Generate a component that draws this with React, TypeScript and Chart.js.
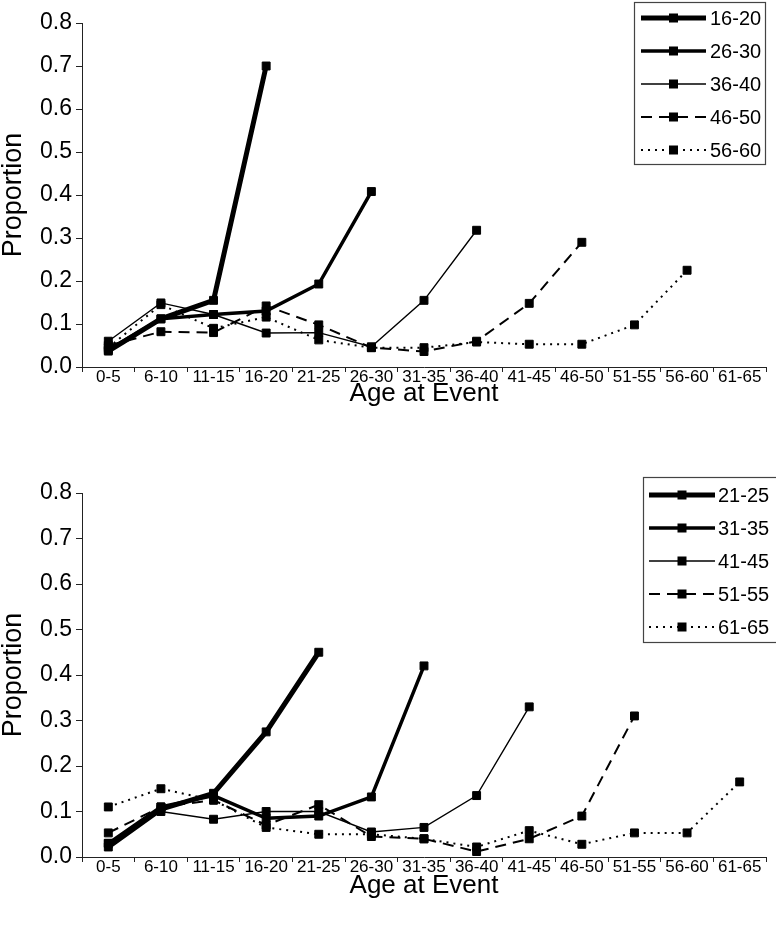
import React, { useEffect, useRef } from 'react';
import { Chart, registerables } from 'chart.js';

Chart.register(...registerables);

// ---------- data ----------
const ageLabels = ['0-5', '6-10', '11-15', '16-20', '21-25', '26-30', '31-35', '36-40', '41-45', '46-50', '51-55', '56-60', '61-65'];

const topNames = ['16-20', '26-30', '36-40', '46-50', '56-60'];
const top1620 = [0.037, 0.112, 0.155, 0.70];
const top2630 = [0.04, 0.112, 0.122, 0.13, 0.193, 0.408];
const top3640 = [0.06, 0.149, 0.122, 0.079, 0.08, 0.047, 0.155, 0.318];
const top4650 = [0.05, 0.082, 0.08, 0.142, 0.098, 0.045, 0.036, 0.06, 0.148, 0.29];
const top5660 = [0.045, 0.145, 0.09, 0.116, 0.063, 0.045, 0.045, 0.058, 0.053, 0.053, 0.098, 0.225];

const bottomNames = ['21-25', '31-35', '41-45', '51-55', '61-65'];
const bot2125 = [0.022, 0.105, 0.14, 0.275, 0.45];
const bot3135 = [0.03, 0.11, 0.135, 0.085, 0.09, 0.132, 0.42];
const bot4145 = [0.03, 0.1, 0.083, 0.1, 0.1, 0.055, 0.065, 0.135, 0.33];
const bot5155 = [0.053, 0.11, 0.125, 0.07, 0.115, 0.045, 0.04, 0.012, 0.04, 0.09, 0.31];
const bot6165 = [0.11, 0.15, 0.125, 0.065, 0.05, 0.05, 0.04, 0.022, 0.058, 0.028, 0.053, 0.053, 0.165];

const yMin = 0;
const yMax = 0.8;
const yStep = 0.1;
const xTitle = 'Age at Event';
const yTitle = 'Proportion';

// ---------- styles ----------
const FONT = '"Liberation Sans", Arial, Helvetica, sans-serif';
const lineStyles = [
  { width: 5, dash: [] as number[] },
  { width: 3.5, dash: [] as number[] },
  { width: 1.4, dash: [] as number[] },
  { width: 2, dash: [11, 7] },
  { width: 2, dash: [2, 5] },
];

const boxLegend = {
  id: 'boxLegend',
  afterDraw(chart: any, _args: any, opts: any) {
    const ctx = chart.ctx;
    ctx.save();
    ctx.fillStyle = '#fff';
    ctx.fillRect(opts.left, opts.top, opts.width, opts.height);
    ctx.lineWidth = 1.2;
    ctx.strokeStyle = '#444';
    ctx.setLineDash([]);
    ctx.strokeRect(opts.left + 0.5, opts.top + 0.5, opts.width, opts.height);
    chart.data.datasets.forEach((ds: any, i: number) => {
      const y = opts.firstRow + i * opts.rowGap;
      ctx.beginPath();
      ctx.strokeStyle = '#000';
      ctx.lineWidth = ds.borderWidth;
      ctx.setLineDash(ds.borderDash || []);
      ctx.moveTo(opts.lineStart, y);
      ctx.lineTo(opts.lineEnd, y);
      ctx.stroke();
      ctx.setLineDash([]);
      const mid = (opts.lineStart + opts.lineEnd) / 2;
      ctx.fillStyle = '#000';
      ctx.fillRect(mid - 4.5, y - 4.5, 9, 9);
      ctx.font = `20px ${FONT}`;
      ctx.textBaseline = 'middle';
      ctx.textAlign = 'left';
      ctx.fillText(ds.label, opts.textX, y + 1);
    });
    ctx.restore();
  },
};

function makeConfig(names: string[], series: number[][], layout: any) {
  return {
    type: 'line' as const,
    data: {
      labels: ageLabels,
      datasets: series.map((d, i) => ({
        label: names[i],
        data: d,
        borderColor: '#000',
        backgroundColor: '#000',
        borderWidth: lineStyles[i].width,
        borderDash: lineStyles[i].dash,
        pointStyle: 'rect',
        pointRadius: 5.6,
        pointBorderWidth: 1,
        pointBackgroundColor: '#000',
        pointBorderColor: '#000',
        tension: 0,
        fill: false,
        spanGaps: false,
      })),
    },
    options: {
      animation: false,
      responsive: true,
      maintainAspectRatio: false,
      layout: { padding: { top: layout.padTop, right: 10, left: 0, bottom: 0 } },
      plugins: {
        legend: { display: false },
        tooltip: { enabled: false },
        boxLegend: layout.legend,
      },
      scales: {
        x: {
          type: 'category',
          offset: true,
          afterFit: (s: any) => { s.height = layout.xHeight; },
          grid: { offset: true, drawOnChartArea: false, drawTicks: true, tickLength: 5, color: '#222', lineWidth: 1 },
          border: { display: true, color: '#222', width: 1 },
          ticks: { color: '#000', font: { family: FONT, size: 17 }, maxRotation: 0, autoSkip: false, padding: -5 },
          title: { display: true, text: xTitle, color: '#000', font: { family: FONT, size: 26 }, padding: { top: 0, bottom: layout.xTitlePad } },
        },
        y: {
          min: yMin,
          max: yMax,
          afterFit: (s: any) => { s.width = 82; },
          grid: { drawOnChartArea: false, drawTicks: true, tickLength: 6, color: '#222', lineWidth: 1 },
          border: { display: true, color: '#222', width: 1 },
          ticks: { stepSize: yStep, color: '#000', font: { family: FONT, size: 23 }, padding: 4, callback: (v: any) => Number(v).toFixed(1) },
          title: { display: true, text: yTitle, color: '#000', font: { family: FONT, size: 27 }, padding: { top: -3, bottom: 0 } },
        },
      },
    },
    plugins: [boxLegend],
  };
}

function LineChart({ height, names, series, layout }: any) {
  const ref = useRef<HTMLCanvasElement | null>(null);
  useEffect(() => {
    if (!ref.current) return;
    const chart = new Chart(ref.current, makeConfig(names, series, layout) as any);
    return () => chart.destroy();
  }, []);
  return (
    <div style={{ position: 'relative', width: 776, height }}>
      <canvas ref={ref} />
    </div>
  );
}

export default function App() {
  return (
    <div style={{ position: 'absolute', left: 0, top: 0, width: 776, height: 925, background: '#fff' }}>
      <LineChart
        height={460}
        names={topNames}
        series={[top1620, top2630, top3640, top4650, top5660]}
        layout={{
          padTop: 23,
          xHeight: 93,
          xTitlePad: 51,
          legend: { left: 634, top: 2, width: 131, height: 162, firstRow: 18, rowGap: 33, lineStart: 641, lineEnd: 706, textX: 710 },
        }}
      />
      <LineChart
        height={465}
        names={bottomNames}
        series={[bot2125, bot3135, bot4145, bot5155, bot6165]}
        layout={{
          padTop: 33,
          xHeight: 68,
          xTitlePad: 24,
          legend: { left: 643, top: 17, width: 140, height: 165, firstRow: 35, rowGap: 33, lineStart: 649, lineEnd: 715, textX: 718 },
        }}
      />
    </div>
  );
}
